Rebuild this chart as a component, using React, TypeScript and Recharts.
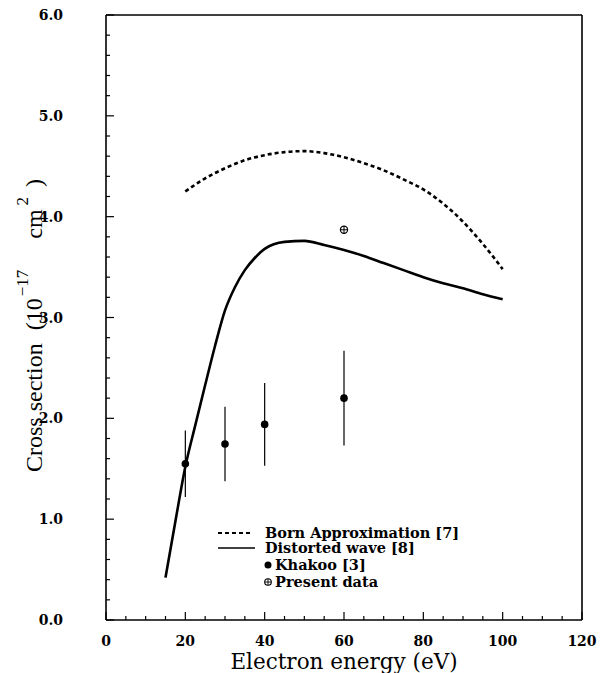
import React from "react";
import {
  ComposedChart,
  Line,
  Scatter,
  XAxis,
  YAxis,
  ErrorBar,
  ReferenceLine,
  Label,
} from "recharts";

// ---- data ----
const bornEnergy = [20, 25, 30, 35, 40, 45, 50, 55, 60, 65, 70, 75, 80, 85, 90, 95, 100];
const bornValues = [4.25, 4.38, 4.48, 4.56, 4.61, 4.64, 4.65, 4.63, 4.59, 4.53, 4.46, 4.37, 4.27, 4.13, 3.95, 3.73, 3.48];

const dwEnergy = [15, 17.5, 20, 22.5, 25, 27.5, 30, 32.5, 35, 37.5, 40, 45, 50, 55, 60, 65, 70, 75, 80, 85, 90, 95, 100];
const dwValues = [0.42, 0.98, 1.52, 1.93, 2.33, 2.72, 3.07, 3.3, 3.47, 3.59, 3.68, 3.75, 3.76, 3.72, 3.67, 3.61, 3.54, 3.47, 3.4, 3.34, 3.29, 3.23, 3.18];

const khakooEnergy = [20, 30, 40, 60];
const khakooValues = [1.55, 1.745, 1.94, 2.2];
const khakooErrors = [0.33, 0.37, 0.41, 0.47];

const presentEnergy = [60];
const presentValues = [3.87];

const xTicks = [0, 5, 10, 15, 20, 25, 30, 35, 40, 45, 50, 55, 60, 65, 70, 75, 80, 85, 90, 95, 100, 105, 110, 115, 120];
const xMajor = [0, 20, 40, 60, 80, 100, 120];
const yTicks = [0, 0.2, 0.4, 0.6, 0.8, 1, 1.2, 1.4, 1.6, 1.8, 2, 2.2, 2.4, 2.6, 2.8, 3, 3.2, 3.4, 3.6, 3.8, 4, 4.2, 4.4, 4.6, 4.8, 5, 5.2, 5.4, 5.6, 5.8, 6];
const yMajor = [0, 1, 2, 3, 4, 5, 6];

const legendItems = ["Born Approximation [7]", "Distorted wave [8]", "Khakoo [3]", "Present data"];

const bornData = bornEnergy.map((x, i) => ({ x, y: bornValues[i] }));
const dwData = dwEnergy.map((x, i) => ({ x, y: dwValues[i] }));
const khakooData = khakooEnergy.map((x, i) => ({ x, y: khakooValues[i], err: khakooErrors[i] }));
const presentData = presentEnergy.map((x, i) => ({ x, y: presentValues[i] }));

const tickFont = "'DejaVu Serif', serif";

const XTick = (props: any) => {
  const { x, y, payload } = props;
  const major = xMajor.includes(payload.value);
  return (
    <g>
      <line x1={x} y1={y} x2={x} y2={y - (major ? 8 : 4)} stroke="#000" strokeWidth={1.2} />
      {major && (
        <text x={x} y={y + 26} textAnchor="middle" fontFamily={tickFont} fontWeight="bold" fontSize={14} fill="#000">
          {payload.value}
        </text>
      )}
    </g>
  );
};

const YTick = (props: any) => {
  const { x, y, payload } = props;
  const v = Math.round(payload.value * 10) / 10;
  const major = yMajor.includes(v);
  return (
    <g>
      <line x1={x} y1={y} x2={x + (major ? 8 : 4)} y2={y} stroke="#000" strokeWidth={1.2} />
      {major && (
        <text x={x - 43} y={y} dy="0.36em" textAnchor="end" fontFamily={tickFont} fontWeight="bold" fontSize={14} fill="#000">
          {v.toFixed(1)}
        </text>
      )}
    </g>
  );
};

const PresentShape = (props: any) => {
  const { cx, cy } = props;
  return (
    <g>
      <circle cx={cx} cy={cy} r={3.6} fill="#fff" stroke="#000" strokeWidth={1.2} />
      <line x1={cx - 3.6} y1={cy} x2={cx + 3.6} y2={cy} stroke="#000" strokeWidth={1} />
      <line x1={cx} y1={cy - 3.6} x2={cx} y2={cy + 3.6} stroke="#000" strokeWidth={1} />
    </g>
  );
};

const KhakooShape = (props: any) => {
  const { cx, cy } = props;
  return <circle cx={cx} cy={cy} r={3.8} fill="#000" stroke="none" />;
};

const LegendBox = () => {
  const lf = { fontFamily: tickFont, fontWeight: "bold" as const, fontSize: 14.5, fill: "#000" };
  return (
    <svg width={300} height={80} style={{ position: "absolute", left: 210, top: 519, display: "block" }}>
      <line x1={8} y1={14} x2={43} y2={14} stroke="#000" strokeWidth={2} strokeDasharray="4 3" />
      <text x={55} y={19} {...lf}>{legendItems[0]}</text>
      <line x1={8} y1={29} x2={45} y2={29} stroke="#000" strokeWidth={1.5} />
      <text x={55} y={34} {...lf}>{legendItems[1]}</text>
      <circle cx={58} cy={46} r={3.5} fill="#000" />
      <text x={65} y={51} {...lf}>{legendItems[2]}</text>
      <circle cx={58} cy={63} r={3.3} fill="#fff" stroke="#000" strokeWidth={1.1} />
      <line x1={54.7} y1={63} x2={61.3} y2={63} stroke="#000" strokeWidth={0.9} />
      <line x1={58} y1={59.7} x2={58} y2={66.3} stroke="#000" strokeWidth={0.9} />
      <text x={65} y={68} {...lf}>{legendItems[3]}</text>
    </svg>
  );
};

const YTitle = () => (
  <text
    transform="translate(42,472) rotate(-90)"
    fontFamily="'Liberation Serif', serif"
    fontSize={24}
    fill="#000"
  >
    <tspan x={0} y={0}>Cross section</tspan>
    <tspan dx={13}>(10</tspan>
    <tspan dy={-14} dx={2} fontSize={17}>−17</tspan>
    <tspan dy={14} dx={31}>cm</tspan>
    <tspan dy={-14} dx={4} fontSize={17}>2</tspan>
    <tspan dy={14} dx={10}>)</tspan>
  </text>
);

const XTitle = () => (
  <text x={344} y={669} textAnchor="middle" fontFamily={tickFont} fontSize={21.5} fill="#000">
    Electron energy (eV)
  </text>
);

export default function App() {
  return (
    <div style={{ position: "absolute", left: 0, top: 0, width: 600, height: 673, background: "#fff" }}>
      <ComposedChart width={600} height={673} margin={{ top: 15, right: 18, left: 0, bottom: 0 }}>
        <XAxis
          type="number"
          dataKey="x"
          domain={[0, 120]}
          ticks={xTicks}
          interval={0}
          height={53}
          axisLine={{ stroke: "#000", strokeWidth: 1.6 }}
          tickLine={false}
          tickSize={0}
          tickMargin={0}
          tick={<XTick />}
          allowDataOverflow
        >
          <Label content={<XTitle />} />
        </XAxis>
        <YAxis
          type="number"
          dataKey="y"
          domain={[0, 6]}
          ticks={yTicks}
          interval={0}
          width={106}
          axisLine={{ stroke: "#000", strokeWidth: 1.6 }}
          tickLine={false}
          tickSize={0}
          tickMargin={0}
          tick={<YTick />}
          allowDataOverflow
        >
          <Label content={<YTitle />} />
        </YAxis>
        <ReferenceLine y={6} stroke="#000" strokeWidth={1.6} />
        <ReferenceLine x={120} stroke="#000" strokeWidth={1.6} />
        <Line
          data={bornData}
          dataKey="y"
          type="monotone"
          stroke="#000"
          strokeWidth={2.6}
          strokeDasharray="4 3"
          dot={false}
          activeDot={false}
          isAnimationActive={false}
        />
        <Line
          data={dwData}
          dataKey="y"
          type="monotone"
          stroke="#000"
          strokeWidth={2.6}
          dot={false}
          activeDot={false}
          isAnimationActive={false}
        />
        <Scatter data={khakooData} dataKey="y" shape={<KhakooShape />} isAnimationActive={false}>
          <ErrorBar dataKey="err" direction="y" width={0} stroke="#000" strokeWidth={1.2} />
        </Scatter>
        <Scatter data={presentData} dataKey="y" shape={<PresentShape />} isAnimationActive={false} />
      </ComposedChart>
      <LegendBox />
    </div>
  );
}
